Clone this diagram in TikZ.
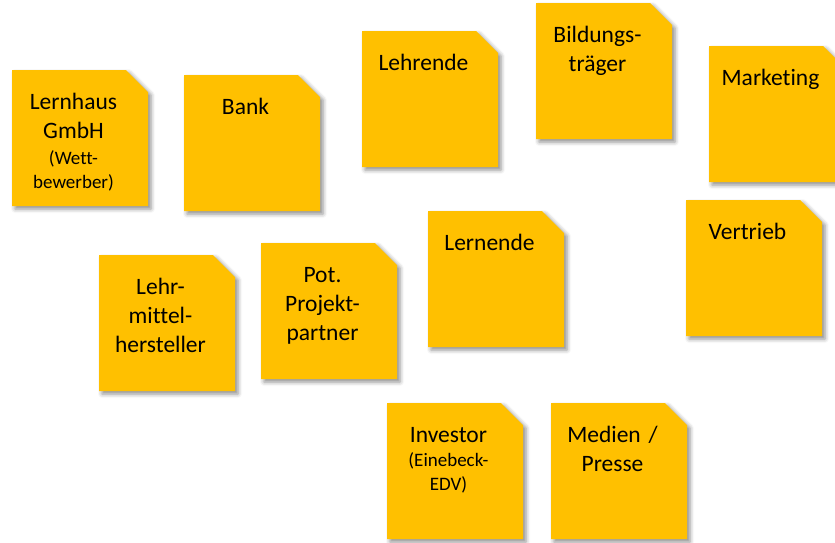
\documentclass[tikz,border=0pt]{standalone}
\usepackage{fontspec}
\setmainfont{Carlito}[Ligatures=NoCommon]
\usetikzlibrary{shadows.blur}
\definecolor{notegold}{HTML}{FFC000}
\newcommand\smallnote{\fontsize{19}{24}\selectfont}

\begin{document}
\begin{tikzpicture}[x=1pt, y=-1pt,
        note/.style={fill=notegold, blur shadow={shadow xshift=3pt, shadow yshift=-3pt, shadow blur radius=4pt, shadow opacity=45}},
        notetext/.style={text width=132pt, align=center, anchor=base, inner sep=0pt, font=\fontsize{23.5}{29}\selectfont}]
        \useasboundingbox (0, 0) rectangle (835, 542);
        \foreach \x/\y/\nm/\txt in {
            12/70/lernhaus/{Lernhaus\\GmbH\endgraf\vskip2pt\smallnote (Wett-\\bewerber)\endgraf},
            184/75/bank/{Bank},
            362/31/lehrende/{Lehrende},
            536/3/bildung/{Bildungs-\\träger},
            709/46/marketing/{Marketing},
            686/200/vertrieb/{Vertrieb},
            99/255/lehrmittel/{Lehr-\\mittel-\\hersteller},
            261/243/partner/{Pot.\\Projekt-\\partner},
            428/211/lernende/{Lernende},
            387/403/investor/{Investor\endgraf\smallnote (Einebeck-\\EDV)\endgraf},
            551/403/medien/{Medien /\\Presse}} {
            \fill[note] (\x, \y) -- ++(114, 0) -- ++(22, 22) -- ++(0, 114) -- ++(-136, 0) -- cycle;
            \node[notetext] (\nm) at (\x+61.5, \y+39) {\txt};
        }
    \end{tikzpicture}
\end{document}
